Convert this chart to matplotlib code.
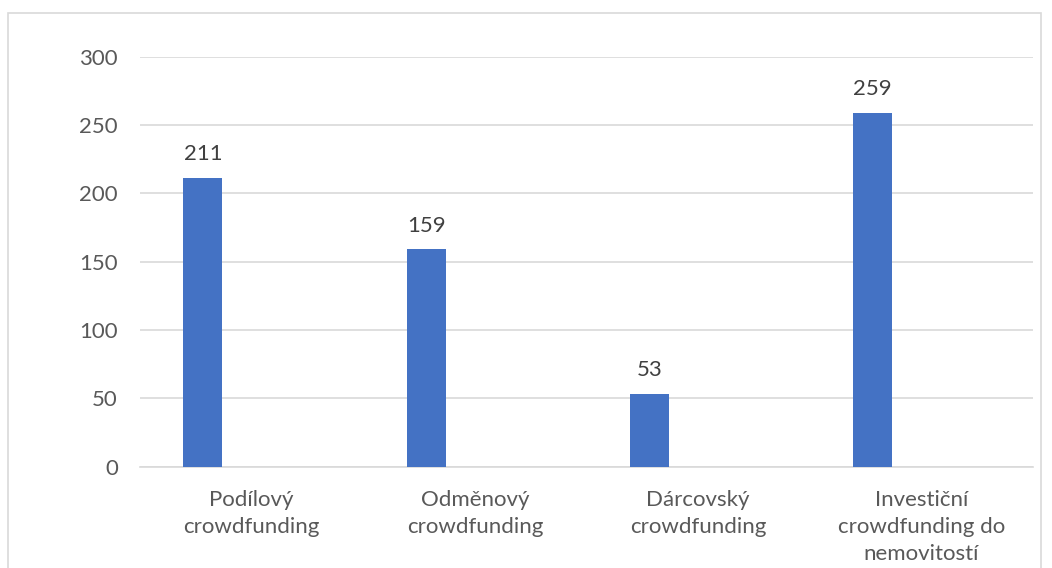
import matplotlib.pyplot as plt
from matplotlib.patches import Rectangle
import numpy as np

# Chart data
categories = ['Podílový\ncrowdfunding', 'Odměnový\ncrowdfunding',
              'Dárcovský\ncrowdfunding', 'Investiční\ncrowdfunding do\nnemovitostí']
values = [211, 159, 53, 259]
y_ticks = [0, 50, 100, 150, 200, 250, 300]

plt.rcParams['font.family'] = ['Lato', 'DejaVu Sans']

fig = plt.figure(figsize=(10.52, 5.68), dpi=100)

# Excel-like chart area border
fig.patches.append(Rectangle((8 / 1052, -0.1), (1041 - 8) / 1052, 1 - 13 / 568 + 0.1,
                             transform=fig.transFigure, fill=False,
                             edgecolor='#d9d9d9', linewidth=1.2))

ax = fig.add_axes([140 / 1052, 1 - 466.7 / 568, (1033 - 140) / 1052, (466.7 - 56.7) / 568])

x = np.arange(len(categories))
bars = ax.bar(x - 0.218, values, width=0.175, color='#4472C4', zorder=3)

for b, v in zip(bars, values):
    ax.annotate(str(v), (b.get_x() + b.get_width() / 2, v), xytext=(0, 10),
                textcoords='offset points', ha='center', va='bottom',
                fontsize=16, color='#404040')

ax.set_xlim(-0.5, len(categories) - 0.5)
ax.set_ylim(0, 300)
ax.set_yticks(y_ticks)
ax.set_xticks(x)
ax.set_xticklabels(categories, fontsize=16, color='#595959', linespacing=1.42, va='top')
ax.tick_params(axis='y', labelsize=16, labelcolor='#595959', length=0, pad=16)
ax.tick_params(axis='x', length=0, pad=17)

ax.grid(axis='y', color='#d9d9d9', linewidth=1.2, zorder=0)
for s in ['top', 'right', 'left']:
    ax.spines[s].set_visible(False)
ax.spines['bottom'].set_color('#d9d9d9')
ax.spines['bottom'].set_linewidth(1.2)

fig.savefig('out.png', dpi=100)
